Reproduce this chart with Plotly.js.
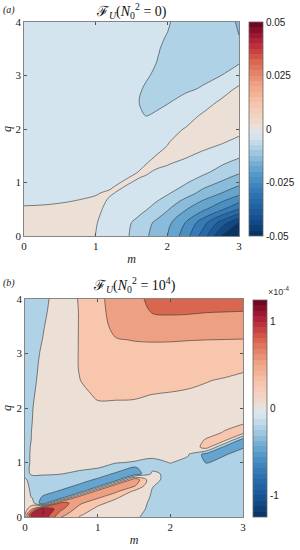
<!DOCTYPE html>
<html><head><meta charset="utf-8">
<script src="https://cdn.plot.ly/plotly-3.0.1.min.js"></script>
<style>html,body{margin:0;padding:0;background:#fff}#chart{width:300px;height:550px}</style>
</head><body><div id="chart"></div>
<script>
// ---------- Panel (a): F_U(N0^2 = 0) ----------
const mA = [0, 0.25, 0.5, 0.75, 1.0, 1.1, 1.2, 1.3, 1.42, 1.55, 1.7, 1.85, 2.0, 2.25, 2.5, 2.75, 3];
const qA = [0, 0.25, 0.5, 0.65, 0.8, 0.9, 1.0, 1.1, 1.2, 1.35, 1.5, 1.75, 2.0, 2.25, 2.5, 2.75, 3.0, 3.25, 3.5, 3.75, 4.0];
const zA = [
[0.003, 0.003, 0.0028, 0.002, -0.00005, -0.0008, -0.0017, -0.0027, -0.0043, -0.0063, -0.0093, -0.012, -0.015, -0.0225, -0.0325, -0.045, -0.058],
[0.0028, 0.0028, 0.0026, 0.0018, 0.0002, -0.0006, -0.0015, -0.0025, -0.0039, -0.0057, -0.0083, -0.011, -0.0135, -0.02, -0.028, -0.037, -0.045],
[0.0003, 0.0004, 0.0004, 0.0004, 0.0002, -0.00002, -0.0004, -0.0009, -0.0018, -0.003, -0.0047, -0.0068, -0.0095, -0.0145, -0.019, -0.024, -0.03],
[-0.0004, -0.00036, -0.00013, 0.00006, 0.00014, 0.00008, -0.0001, -0.0004, -0.001, -0.002, -0.0034, -0.0049, -0.0067, -0.0115, -0.0155, -0.0195, -0.024],
[-0.0009, -0.0008, -0.0006, -0.00035, -0.00006, 0.00004, 0.00006, -0.00004, -0.0004, -0.00095, -0.0019, -0.0031, -0.0045, -0.0075, -0.0118, -0.015, -0.0185],
[-0.0011, -0.001, -0.0009, -0.0008, -0.0003, -0.00015, -0.00003, 0.00006, -0.00004, -0.0004, -0.001, -0.0019, -0.003, -0.006, -0.0097, -0.0128, -0.016],
[-0.0013, -0.0012, -0.0011, -0.001, -0.0007, -0.0005, -0.00027, -0.00004, 0.00006, -0.00004, -0.0005, -0.0011, -0.002, -0.0045, -0.0075, -0.0105, -0.0135],
[-0.0015, -0.0014, -0.0013, -0.0012, -0.001, -0.0008, -0.0006, -0.0003, -0.00004, 0.00006, -0.00005, -0.0005, -0.0011, -0.0031, -0.0056, -0.0083, -0.0115],
[-0.0016, -0.0015, -0.0014, -0.0013, -0.0011, -0.001, -0.0008, -0.0006, -0.0003, -0.00004, 0.0001, -0.0001, -0.0005, -0.002, -0.004, -0.0065, -0.009],
[-0.0018, -0.0017, -0.0016, -0.0015, -0.0013, -0.0012, -0.0011, -0.0009, -0.0007, -0.0004, -0.00001, 0.00017, 0.00012, -0.0005, -0.0022, -0.0045, -0.0068],
[-0.002, -0.002, -0.0019, -0.0018, -0.0016, -0.0015, -0.0014, -0.0012, -0.001, -0.0008, -0.00045, 0.00005, 0.0003, 0.00025, -0.0005, -0.002, -0.0042],
[-0.0022, -0.0022, -0.0021, -0.002, -0.0018, -0.0017, -0.0016, -0.0015, -0.0014, -0.0012, -0.001, -0.0008, -0.00009, 0.0007, 0.0008, 0.0003, -0.001],
[-0.0024, -0.0024, -0.0024, -0.0023, -0.0022, -0.0021, -0.002, -0.002, -0.0019, -0.0018, -0.0016, -0.0014, -0.0012, 0.00017, 0.0012, 0.0015, 0.0012],
[-0.0026, -0.0026, -0.0026, -0.0026, -0.0026, -0.0027, -0.0028, -0.003, -0.0034, -0.004, -0.0051, -0.0046, -0.0033, -0.0015, 0.0005, 0.0017, 0.0023],
[-0.0027, -0.0027, -0.0028, -0.0028, -0.0029, -0.003, -0.0032, -0.0035, -0.004, -0.0047, -0.0055, -0.0057, -0.0053, -0.0036, -0.0016, 0.0006, 0.0021],
[-0.0028, -0.0028, -0.0029, -0.003, -0.0031, -0.0032, -0.0034, -0.0037, -0.0041, -0.0046, -0.0052, -0.0057, -0.006, -0.0057, -0.0046, -0.0018, 0.0007],
[-0.0029, -0.0029, -0.003, -0.0031, -0.0032, -0.0033, -0.0035, -0.0037, -0.004, -0.0044, -0.0048, -0.0053, -0.006, -0.0065, -0.006, -0.005, -0.0022],
[-0.003, -0.003, -0.0031, -0.0032, -0.0033, -0.0034, -0.0035, -0.0037, -0.0039, -0.0042, -0.0045, -0.005, -0.0058, -0.0068, -0.0073, -0.007, -0.0055],
[-0.0031, -0.0031, -0.0032, -0.0033, -0.0034, -0.0035, -0.0036, -0.0038, -0.004, -0.0042, -0.0044, -0.0048, -0.0054, -0.0065, -0.0073, -0.0078, -0.008],
[-0.0032, -0.0032, -0.0033, -0.0034, -0.0035, -0.0036, -0.0037, -0.0039, -0.0041, -0.0043, -0.0045, -0.0047, -0.00505, -0.0062, -0.0074, -0.0086, -0.01],
[-0.0033, -0.0033, -0.0034, -0.0035, -0.0036, -0.0037, -0.0038, -0.004, -0.0041, -0.0043, -0.0044, -0.0046, -0.0048, -0.0059, -0.0073, -0.0088, -0.0103]
];
const cbTicksA = [-0.05, -0.025, 0, 0.025, 0.05];
const cbLabelsA = ['-0.05', '-0.025', '0', '0.025', '0.05'];

// ---------- Panel (b): F_U(N0^2 = 10^4), values in units of 1e-4 ----------
const mB = [0, 0.1, 0.25, 0.5, 0.75, 1.0, 1.25, 1.5, 1.75, 2.0, 2.25, 2.5, 2.75, 3];
const qB = [0, 0.05, 0.146, 0.254, 0.361, 0.469, 0.576, 0.684, 0.791, 0.9, 1.0, 1.15, 1.28, 1.42, 1.55, 1.75, 2.0, 2.25, 2.5, 2.75, 3.0, 3.25, 3.5, 3.75, 4.0];
const zB = [
[0.2, 1.1, 1.2, 0.5, 0.24, 0.13, 0.07, 0.02, -0.04, -0.08, -0.1, -0.12, -0.13, -0.14],
[0.25, 1.2, 1.25, 0.6, 0.28, 0.15, 0.08, 0.03, -0.04, -0.08, -0.1, -0.12, -0.13, -0.14],
[0.12, 0.5, 1.3, 0.8, 0.38, 0.2, 0.11, 0.05, -0.03, -0.08, -0.1, -0.12, -0.14, -0.15],
[0.06, 0.1, -0.45, 0.9, 0.55, 0.3, 0.18, 0.08, -0.03, -0.08, -0.11, -0.13, -0.14, -0.15],
[0.05, -0.01, -0.3, -0.45, 0.7, 0.55, 0.28, 0.13, -0.02, -0.08, -0.11, -0.13, -0.15, -0.16],
[0.04, -0.02, -0.12, -0.3, -0.45, 0.7, 0.55, 0.2, -0.01, -0.07, -0.1, -0.13, -0.15, -0.16],
[0.03, -0.03, -0.07, -0.12, -0.3, -0.45, 0.7, 0.55, 0.01, -0.07, -0.1, -0.13, -0.14, -0.15],
[0.01, -0.03, -0.06, -0.08, -0.12, -0.3, -0.45, 0.7, 0.05, -0.06, -0.1, -0.13, -0.15, -0.15],
[-0.02, 0.01, 0.015, 0.003, -0.04, -0.1, -0.3, -0.45, 0.04, -0.05, -0.1, -0.13, -0.15, -0.14],
[-0.02, 0.015, 0.03, 0.04, 0.03, 0.005, -0.08, -0.3, -0.05, -0.03, -0.08, -0.12, -0.15, -0.12],
[-0.02, 0.01, 0.03, 0.045, 0.055, 0.04, 0.01, -0.01, -0.04, 0.005, -0.04, -0.27, -0.15, -0.12],
[-0.02, 0.01, 0.035, 0.055, 0.07, 0.085, 0.08, 0.06, 0.04, 0.03, 0.01, -0.35, -0.27, -0.15],
[-0.025, 0.01, 0.04, 0.06, 0.08, 0.1, 0.11, 0.1, 0.09, 0.08, 0.07, 0.35, -0.35, -0.27],
[-0.03, 0.005, 0.04, 0.065, 0.09, 0.12, 0.13, 0.13, 0.12, 0.11, 0.12, 0.27, 0.35, -0.35],
[-0.035, 0.005, 0.04, 0.07, 0.1, 0.13, 0.14, 0.14, 0.13, 0.12, 0.12, 0.16, 0.27, 0.35],
[-0.04, 0.0, 0.04, 0.09, 0.14, 0.17, 0.18, 0.18, 0.17, 0.165, 0.16, 0.15, 0.16, 0.22],
[-0.045, -0.003, 0.043, 0.11, 0.2, 0.23, 0.23, 0.23, 0.22, 0.21, 0.2, 0.19, 0.18, 0.17],
[-0.05, -0.01, 0.035, 0.12, 0.22, 0.266, 0.265, 0.262, 0.25, 0.24, 0.23, 0.22, 0.2, 0.19],
[-0.06, -0.02, 0.032, 0.12, 0.245, 0.32, 0.32, 0.318, 0.31, 0.3, 0.28, 0.255, 0.235, 0.22],
[-0.07, -0.03, 0.028, 0.12, 0.26, 0.38, 0.38, 0.375, 0.37, 0.366, 0.35, 0.33, 0.3, 0.27],
[-0.08, -0.04, 0.02, 0.12, 0.26, 0.37, 0.44, 0.45, 0.45, 0.44, 0.42, 0.4, 0.38, 0.37],
[-0.1, -0.055, 0.005, 0.11, 0.26, 0.4, 0.49, 0.505, 0.51, 0.51, 0.505, 0.5, 0.495, 0.49],
[-0.12, -0.07, -0.008, 0.1, 0.26, 0.42, 0.55, 0.62, 0.66, 0.68, 0.68, 0.675, 0.67, 0.66],
[-0.14, -0.09, -0.025, 0.09, 0.26, 0.44, 0.57, 0.68, 0.755, 0.765, 0.76, 0.75, 0.745, 0.74],
[-0.15, -0.1, -0.038, 0.08, 0.27, 0.45, 0.58, 0.7, 0.79, 0.84, 0.86, 0.86, 0.85, 0.84]
];
const cbTicksB = [-1, 0, 1];
const cbLabelsB = ['-1', '0', '1'];

// ---------- colour map (discrete 40-step red-blue) ----------
const anchors = [
  [0.0, '#053061'], [0.1, '#1a5698'], [0.2, '#2f76b4'], [0.3, '#5b9ecb'],
  [0.4125, '#b0d2e6'], [0.4625, '#d3e4ee'], [0.4875, '#dfe4e8'],
  [0.5125, '#ecdfd6'], [0.6125, '#f7c6ad'], [0.7125, '#eea083'],
  [0.8125, '#d9664f'], [0.9, '#b8283a'], [1.0, '#67001f']
];
function hex2rgb(h){return [1,3,5].map(i=>parseInt(h.substr(i,2),16));}
function interp(t){
  for(let i=0;i<anchors.length-1;i++){
    const [t0,c0]=anchors[i],[t1,c1]=anchors[i+1];
    if(t<=t1){const f=(t-t0)/(t1-t0);const a=hex2rgb(c0),b=hex2rgb(c1);
      return 'rgb('+a.map((v,k)=>Math.round(v+(b[k]-v)*f)).join(',')+')';}
  }
  return anchors[anchors.length-1][1];
}
const NSTEP=40;
const pal=[];for(let i=0;i<NSTEP;i++)pal.push(interp((i+0.5)/NSTEP));
function discreteScale(){const s=[];for(let i=0;i<NSTEP;i++){s.push([i/NSTEP,pal[i]]);s.push([(i+1)/NSTEP,pal[i]]);}return s;}
function fillScale(start,end,cs,vmin,vmax){
  const nc=Math.round((end-start)/cs)+1;const s=[];
  const step=(vmax-vmin)/NSTEP;
  for(let k=-1;k<=nc-1;k++){
    const L=start+k*cs;let i=Math.floor((L-vmin)/step+1e-6);
    i=Math.max(0,Math.min(NSTEP-1,i));
    s.push([(k+1)/nc,pal[i]]);
  }
  return s;
}

const serif='"Liberation Serif","DejaVu Serif",serif';
const sans='"Liberation Sans",Arial,sans-serif';
const lineStyle={color:'#333',width:0.6,smoothing:1};

function cb(x,ytop,len,tv,tt){
  return {x:x,xanchor:'left',xref:'paper',y:ytop,yanchor:'top',yref:'paper',len:len,lenmode:'pixels',
    thickness:14,thicknessmode:'pixels',xpad:0,ypad:0,outlinewidth:0.8,outlinecolor:'#666',
    tickvals:tv,ticktext:tt,ticks:'',tickfont:{family:sans,size:10,color:'#222'}};
}

const traces=[
  {type:'heatmap',x:mA,y:qA,z:zA,xaxis:'x',yaxis:'y',zmin:-0.05,zmax:0.05,colorscale:discreteScale(),
   hoverinfo:'skip',colorbar:cb(249/300,1-22/550,214,cbTicksA,cbLabelsA)},
  {type:'contour',x:mA,y:qA,z:zA,xaxis:'x',yaxis:'y',autocontour:false,showscale:false,
   contours:{start:-0.06,end:0.045,size:0.005,coloring:'fill',showlines:true},
   colorscale:fillScale(-0.06,0.045,0.005,-0.05,0.05),line:lineStyle,hoverinfo:'skip'},
  {type:'heatmap',x:mB,y:qB,z:zB,xaxis:'x2',yaxis:'y2',zmin:-1.25,zmax:1.25,colorscale:discreteScale(),
   hoverinfo:'skip',colorbar:cb(253/300,1-300/550,217,cbTicksB,cbLabelsB)},
  {type:'contour',x:mB,y:qB,z:zB,xaxis:'x2',yaxis:'y2',autocontour:false,showscale:false,
   contours:{start:-1.25,end:1.25,size:0.25,coloring:'fill',showlines:true},
   colorscale:fillScale(-1.25,1.25,0.25,-1.25,1.25),line:lineStyle,hoverinfo:'skip'}
];

function xax(dom,anchor){return {domain:dom,anchor:anchor,range:[0,3],tickvals:[0,1,2,3],ticks:'inside',ticklen:3,
  tickcolor:'#555',showline:true,linecolor:'#666',linewidth:0.8,mirror:'ticks',showgrid:false,zeroline:false,
  tickfont:{family:serif,size:11,color:'#222'},title:{text:'<i>m</i>',font:{family:serif,size:12,color:'#222'},standoff:3}};}
function yax(dom,anchor){return {domain:dom,anchor:anchor,range:[0,4],tickvals:[0,1,2,3,4],ticks:'inside',ticklen:3,
  tickcolor:'#555',showline:true,linecolor:'#666',linewidth:0.8,mirror:'ticks',showgrid:false,zeroline:false,
  tickfont:{family:serif,size:11,color:'#222'},title:{text:'<i>q</i>',font:{family:serif,size:12,color:'#222'},standoff:4}};}

const layout={
  width:300,height:550,margin:{l:0,r:0,t:0,b:0},paper_bgcolor:'#fff',plot_bgcolor:'#fff',showlegend:false,
  xaxis:xax([24/300,239/300],'y'),yaxis:yax([1-236/550,1-22/550],'x'),
  xaxis2:xax([25/300,243/300],'y2'),yaxis2:yax([1-517/550,1-299/550],'x2'),
  annotations:[
    {xref:'paper',yref:'paper',x:1/300,y:1-10/550,xanchor:'left',yanchor:'middle',showarrow:false,
     text:'<i>(a)</i>',font:{family:serif,size:10,color:'#222'}},
    {xref:'paper',yref:'paper',x:1/300,y:1-283/550,xanchor:'left',yanchor:'middle',showarrow:false,
     text:'<i>(b)</i>',font:{family:serif,size:10,color:'#222'}},
    {xref:'paper',yref:'paper',x:131/300,y:1-11/550,xanchor:'center',yanchor:'middle',showarrow:false,
     text:'ℱ<sub><i>U</i></sub>(<i>N</i><sub>0</sub><sup>2</sup> = 0)',font:{family:serif,size:14,color:'#111'}},
    {xref:'paper',yref:'paper',x:134/300,y:1-285/550,xanchor:'center',yanchor:'middle',showarrow:false,
     text:'ℱ<sub><i>U</i></sub>(<i>N</i><sub>0</sub><sup>2</sup> = 10<sup>4</sup>)',font:{family:serif,size:14,color:'#111'}},
    {xref:'paper',yref:'paper',x:266/300,y:1-291/550,xanchor:'left',yanchor:'middle',showarrow:false,
     text:'×10<sup>-4</sup>',font:{family:sans,size:9,color:'#333'}}
  ]
};
Plotly.newPlot('chart',traces,layout,{staticPlot:true,displayModeBar:false});
</script></body></html>
